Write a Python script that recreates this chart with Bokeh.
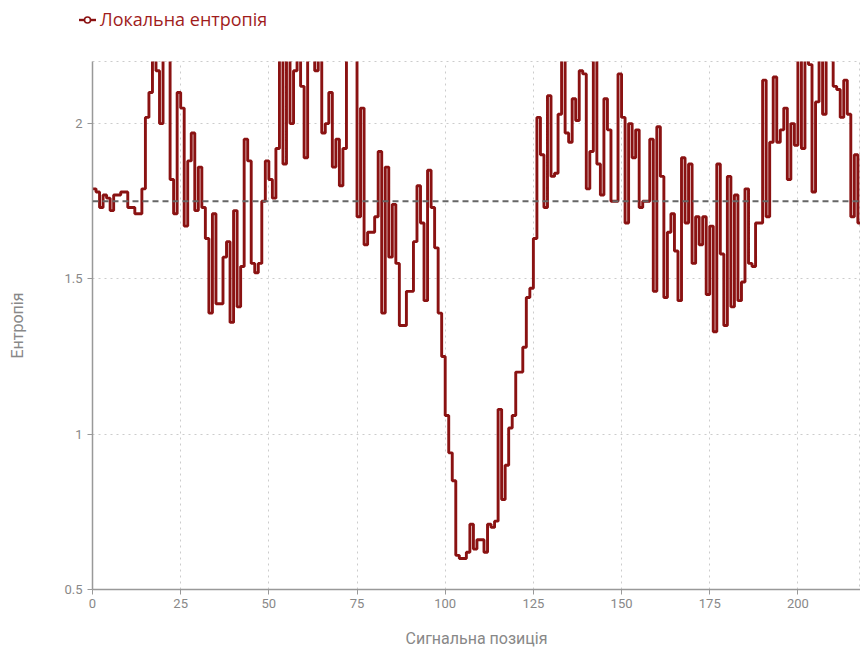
from bokeh.plotting import figure
from bokeh.layouts import column
from bokeh.models import Div, Span, Range1d, FixedTicker, NumeralTickFormatter
from bokeh.embed import file_html
from bokeh.resources import INLINE

positions = list(range(220))
entropy = [
    1.79, 1.78, 1.73, 1.77, 1.76, 1.72, 1.77, 1.77, 1.78, 1.78,
    1.73, 1.73, 1.71, 1.71, 1.79, 2.02, 2.10, 2.25, 2.17, 2.00,
    2.25, 2.25, 1.82, 1.71, 2.10, 2.05, 1.67, 1.88, 1.97, 1.72,
    1.86, 1.73, 1.63, 1.39, 1.71, 1.42, 1.42, 1.57, 1.62, 1.36,
    1.72, 1.41, 1.54, 1.95, 1.88, 1.55, 1.52, 1.55, 1.75, 1.88,
    1.82, 1.76, 1.92, 2.25, 1.87, 2.25, 2.00, 2.17, 2.25, 2.12,
    1.89, 2.25, 2.25, 2.17, 2.25, 1.97, 2.00, 2.10, 1.86, 1.95,
    1.80, 1.92, 2.25, 2.25, 2.25, 1.70, 2.05, 1.61, 1.65, 1.65,
    1.70, 1.91, 1.39, 1.86, 1.57, 1.74, 1.55, 1.35, 1.35, 1.46,
    1.46, 1.62, 1.80, 1.68, 1.43, 1.85, 1.73, 1.60, 1.39, 1.25,
    1.06, 0.94, 0.85, 0.61, 0.60, 0.60, 0.62, 0.71, 0.63, 0.66,
    0.66, 0.62, 0.71, 0.70, 0.72, 1.08, 0.79, 0.90, 1.02, 1.06,
    1.20, 1.20, 1.28, 1.44, 1.47, 1.63, 2.02, 1.90, 1.73, 2.09,
    1.83, 1.84, 2.03, 2.25, 1.97, 1.94, 2.08, 2.01, 2.17, 2.16,
    1.79, 1.91, 2.25, 1.87, 1.77, 2.08, 1.98, 1.75, 1.75, 2.16,
    2.02, 1.68, 2.00, 1.89, 1.98, 1.73, 1.75, 1.75, 1.95, 1.46,
    1.99, 1.83, 1.44, 1.65, 1.71, 1.59, 1.43, 1.89, 1.68, 1.87,
    1.55, 1.70, 1.61, 1.70, 1.45, 1.67, 1.33, 1.87, 1.58, 1.35,
    1.83, 1.41, 1.77, 1.43, 1.49, 1.79, 1.55, 1.54, 1.68, 1.68,
    2.14, 1.70, 1.94, 2.15, 1.94, 1.98, 2.05, 1.82, 2.00, 1.93,
    2.25, 1.92, 2.25, 2.19, 1.78, 2.07, 2.25, 2.03, 2.25, 2.25,
    2.12, 2.11, 2.02, 2.14, 2.03, 1.70, 1.90, 1.68, 2.02, 2.12,
]
threshold = 1.75
x_ticks = [0, 25, 50, 75, 100, 125, 150, 175, 200]
y_ticks = [0.5, 1.0, 1.5, 2.0]
series_name = "Локальна ентропія"
x_title = "Сигнальна позиція"
y_title = "Ентропія"

RED = "#8a1212"
AXIS_FONT = "Roboto"

W = 860
TOP_H = 40
H = 650 - TOP_H
BL, BT, BB = 92, 61 - TOP_H, 58
frame_h = H - BT - BB
frame_w = W - BL
x_end = frame_w / 3.527

# ---- legend strip above the chart ----
legend_html = (
    '<div style="position:relative;width:%dpx;height:%dpx;">'
    '<svg style="position:absolute;left:79px;top:14px" width="17" height="12">'
    '<line x1="0" y1="6" x2="17" y2="6" stroke="%s" stroke-width="2.4"/>'
    '<circle cx="8.5" cy="6" r="3" fill="white" stroke="%s" stroke-width="1.6"/></svg>'
    '<span style="position:absolute;left:100px;top:7px;line-height:24px;'
    'font-family:\'Open Sans\';font-size:18px;color:#a01c1c;white-space:nowrap">%s</span>'
    '</div>'
) % (W, TOP_H, RED, RED, series_name)
top = Div(text=legend_html, width=W, height=TOP_H, margin=0)

# ---- main chart ----
p = figure(width=W, height=H, output_backend="svg", toolbar_location=None,
           x_range=Range1d(0, x_end), y_range=Range1d(0.5, 2.2),
           min_border_left=BL, min_border_right=0, min_border_top=BT, min_border_bottom=BB)
p.background_fill_color = "white"
p.border_fill_color = "white"
p.outline_line_color = "#cccccc"
p.outline_line_dash = "2 4"

p.step(positions, entropy, mode="after", line_width=2.9, line_color=RED)

p.add_layout(Span(location=threshold, dimension="width", line_color="#666666",
                  line_width=2, line_dash="6 4"))

for ax in (p.xaxis[0], p.yaxis[0]):
    ax.axis_line_color = "#999999"
    ax.axis_line_width = 1.5
    ax.major_tick_line_color = "#999999"
    ax.major_tick_out = 5
    ax.major_tick_in = 0
    ax.minor_tick_line_color = None
    ax.major_label_text_color = "#888888"
    ax.major_label_text_font = AXIS_FONT
    ax.major_label_text_font_size = "13px"
    ax.axis_label_text_color = "#888888"
    ax.axis_label_text_font = AXIS_FONT
    ax.axis_label_text_font_size = "16px"
    ax.axis_label_text_font_style = "normal"

p.xaxis.ticker = FixedTicker(ticks=x_ticks)
p.yaxis.ticker = FixedTicker(ticks=y_ticks)
p.yaxis.formatter = NumeralTickFormatter(format="0.[0]")
p.xaxis.axis_label = x_title
p.yaxis.axis_label = y_title
p.xaxis.major_label_standoff = 4
p.xaxis.axis_label_standoff = 18
p.yaxis.major_label_standoff = 5
p.yaxis.axis_label_standoff = 34

for g in (p.xgrid[0], p.ygrid[0]):
    g.grid_line_color = "#cccccc"
    g.grid_line_dash = "2 4"
    g.grid_line_width = 1

layout = column(top, p, spacing=0)
open("out.html", "w").write(file_html(layout, INLINE))
